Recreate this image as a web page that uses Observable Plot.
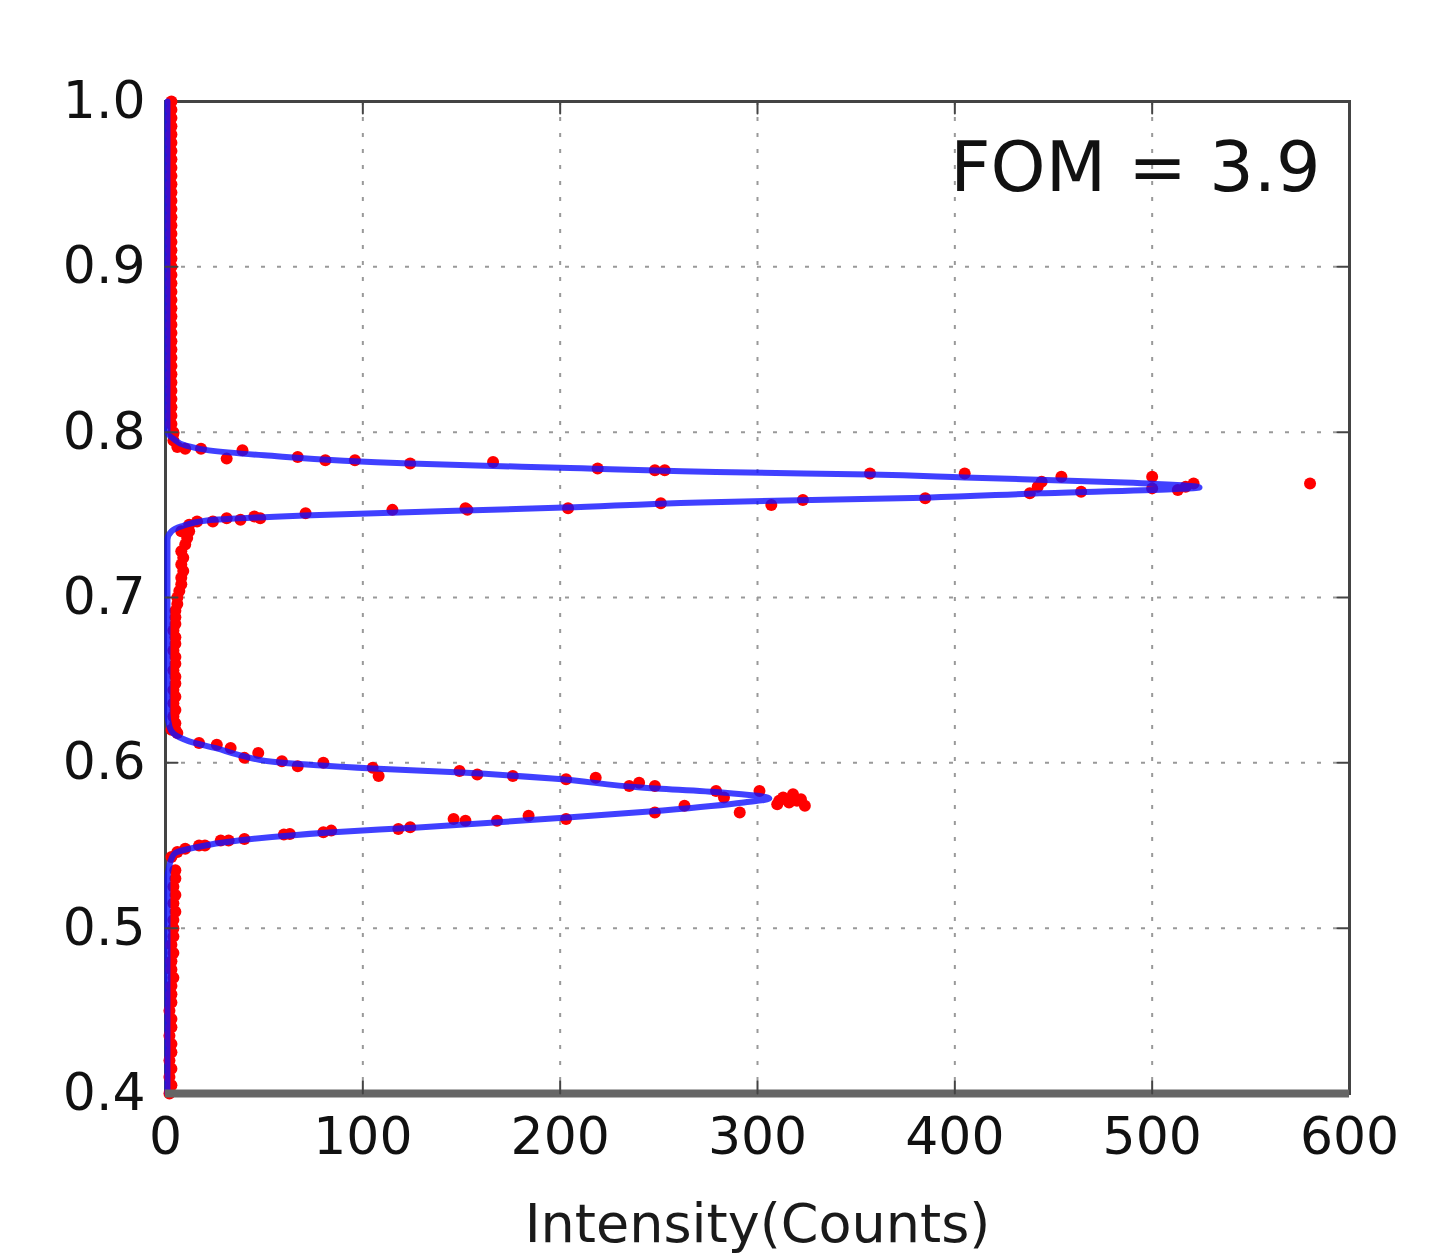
<!DOCTYPE html>
<html><head><meta charset="utf-8">
<script src="https://cdn.jsdelivr.net/npm/d3@7"></script>
<script src="https://cdn.jsdelivr.net/npm/@observablehq/plot@0.6"></script>
<style>body{margin:0;background:#fff;}</style>
</head><body><div id="chart"></div>
<script>
const xTicks = [0, 100, 200, 300, 400, 500, 600];
const yTicks = [0.4, 0.5, 0.6, 0.7, 0.8, 0.9, 1.0];
const xLabel = "Intensity(Counts)";
const fomLabel = "FOM = 3.9";

// measured points [intensity, position]
const upperPeakDots = [
  [4,0.799],[4,0.795],[6,0.791],[10,0.790],[18,0.790],[31,0.784],[39,0.789],[67,0.785],[81,0.783],[96,0.783],
  [124,0.781],[166,0.782],[219,0.778],[248,0.777],[253,0.777],[357,0.775],[405,0.775],[444,0.770],[454,0.773],
  [500,0.773],[521,0.769],[580,0.769],
  [438,0.763],[442,0.767],[464,0.764],[500,0.766],[513,0.765],[517,0.767],
  [8,0.740],[12,0.744],[16,0.746],[24,0.746],[31,0.748],[38,0.747],[45,0.749],[48,0.748],[71,0.751],[115,0.753],
  [152,0.754],[153,0.753],[204,0.754],[251,0.757],[307,0.756],[323,0.759],[385,0.760]
];
const lowerPeakDots = [
  [3,0.620],[6,0.618],[17,0.612],[26,0.611],[33,0.609],[40,0.603],[47,0.606],[59,0.601],[67,0.598],[80,0.600],
  [105,0.597],[108,0.592],[149,0.595],[158,0.593],[176,0.592],[203,0.590],[218,0.591],[235,0.586],[240,0.588],
  [248,0.586],[279,0.583],[283,0.579],[291,0.570],[301,0.583],[311,0.577],
  [310,0.575],[313,0.579],[318,0.581],[320,0.577],[322,0.578],[324,0.574],[316,0.576],
  [263,0.574],[248,0.570],[203,0.566],[184,0.568],[168,0.565],[152,0.565],[146,0.566],[124,0.561],[118,0.560],
  [84,0.559],[80,0.558],[60,0.5566],[63,0.557],[40,0.554],[32,0.553],[28,0.553],[20,0.550],[17,0.550],[10,0.548],
  [6,0.546],[3,0.543]
];
const baselineDots = [
  [2,0.400],[3,0.405],[2,0.410],[3,0.415],[2,0.420],[3,0.425],[3,0.430],[2,0.435],[3,0.440],[3,0.445],
  [2,0.450],[3,0.455],[3,0.460],[3,0.465],[4,0.470],[3,0.475],[3,0.480],[4,0.485],[3,0.490],[4,0.495],
  [4,0.500],[4,0.505],[5,0.510],[4,0.515],[5,0.520],[4,0.525],[5,0.530],[5,0.535],
  [5,0.620],[5,0.624],[4,0.628],[5,0.632],[4,0.636],[5,0.640],[4,0.644],[5,0.648],[5,0.652],[4,0.656],
  [5,0.660],[5,0.664],[4,0.668],[5,0.672],[5,0.676],[4,0.680],[5,0.684],[5,0.688],[5,0.692],[6,0.696],
  [6,0.700],[7,0.704],[8,0.708],[8,0.712],[9,0.716],[8,0.720],[9,0.724],[8,0.728],[10,0.732],[11,0.736],[12,0.740],
  [4,0.800],[3,0.805],[3,0.810],[3,0.815],[3,0.820],[3,0.825],[3,0.830],[3,0.835],[3,0.840],[3,0.845],
  [3,0.850],[3,0.855],[3,0.860],[3,0.865],[3,0.870],[3,0.875],[3,0.880],[3,0.885],[3,0.890],[3,0.895],
  [3,0.900],[3,0.905],[3,0.910],[3,0.915],[3,0.920],[3,0.925],[3,0.930],[3,0.935],[3,0.940],[3,0.945],
  [3,0.950],[3,0.955],[3,0.960],[3,0.965],[3,0.970],[3,0.975],[3,0.980],[3,0.985],[3,0.990],[3,0.995],[3,1.000]
];
// fitted curve [intensity, position]
const fitCurve = [
  [1,0.400],[1,0.530],[2,0.538],[3,0.542],[5,0.5455],[15,0.5488],[37,0.553],[83,0.5579],[128,0.5609],
  [196,0.5663],[252,0.5712],[293,0.5760],[306,0.5784],[282,0.582],[241,0.5851],[196,0.5905],[150,0.5941],
  [105,0.5966],[58,0.6002],[38,0.6045],[26,0.6087],[12,0.613],[4,0.6177],[2,0.622],[1,0.630],
  [1,0.735],[3,0.740],[8,0.743],[21,0.7466],[70,0.7496],[202,0.7544],[271,0.7575],[385,0.7604],[443,0.763],
  [510,0.7655],[524,0.7665],[486,0.7696],[405,0.7726],[357,0.7744],[295,0.7756],[200,0.7785],[124,0.781],
  [50,0.786],[22,0.789],[10,0.792],[4,0.796],[1,0.800],[1,1.000]
];

const toXY = a => a.map(([x, y]) => ({x, y}));
const dots = [...toXY(baselineDots), ...toXY(lowerPeakDots), ...toXY(upperPeakDots)];
const fit = toXY(fitCurve);
const xGrid = xTicks.slice(1, -1);
const yGrid = yTicks.slice(1, -1);
const tickShape = {draw(context, l) { context.moveTo(0, 0); context.lineTo(0, -l); }};
const tickStyle = {length: 12, anchor: "start", shape: tickShape, stroke: "#444", strokeWidth: 2};

const chart = Plot.plot({
  width: 1438, height: 1256,
  marginLeft: 165, marginRight: 89, marginTop: 101, marginBottom: 163,
  style: {fontFamily: "DejaVu Sans", fontSize: "52px", color: "#111", background: "#fff", overflow: "visible"},
  x: {domain: [xTicks[0], xTicks[xTicks.length - 1]], ticks: xTicks, tickSize: 0, tickPadding: 24, label: null},
  y: {domain: [yTicks[0], yTicks[yTicks.length - 1]], ticks: yTicks, tickSize: 0, tickPadding: 20, tickFormat: d3.format(".1f"), label: null},
  marks: [
    Plot.ruleX(xGrid, {x: d => d, stroke: "#999", strokeWidth: 2, strokeDasharray: "4,12"}),
    Plot.ruleY(yGrid, {y: d => d, stroke: "#999", strokeWidth: 2, strokeDasharray: "4,12"}),
    Plot.frame({stroke: "#444", strokeWidth: 3}),
    Plot.dot(dots, {x: "x", y: "y", r: 6, fill: "#ff0000", stroke: null}),
    Plot.line(fit, {x: "x", y: "y", stroke: "#1010ff", strokeWidth: 6, strokeOpacity: 0.8, curve: "monotone-y"}),
    Plot.ruleY([yTicks[0]], {y: d => d, stroke: "#666", strokeWidth: 8}),
    Plot.vector(xGrid, {x: d => d, y: () => yTicks[0], rotate: 0, ...tickStyle}),
    Plot.vector(xGrid, {x: d => d, y: () => yTicks[yTicks.length - 1], rotate: 180, ...tickStyle}),
    Plot.vector(yGrid, {y: d => d, x: () => xTicks[0], rotate: 90, ...tickStyle}),
    Plot.vector(yGrid, {y: d => d, x: () => xTicks[xTicks.length - 1], rotate: 270, ...tickStyle}),
    Plot.text([fomLabel], {text: d => d, frameAnchor: "top-right", dx: -29, dy: 40, textAnchor: "end", lineAnchor: "top", fontSize: 70, fill: "#111"}),
    Plot.text([xLabel], {text: d => d, frameAnchor: "bottom", dy: 110, lineAnchor: "top", fontSize: 54, fill: "#1a1a1a"})
  ]
});
document.getElementById("chart").appendChild(chart);
</script>
</body></html>
